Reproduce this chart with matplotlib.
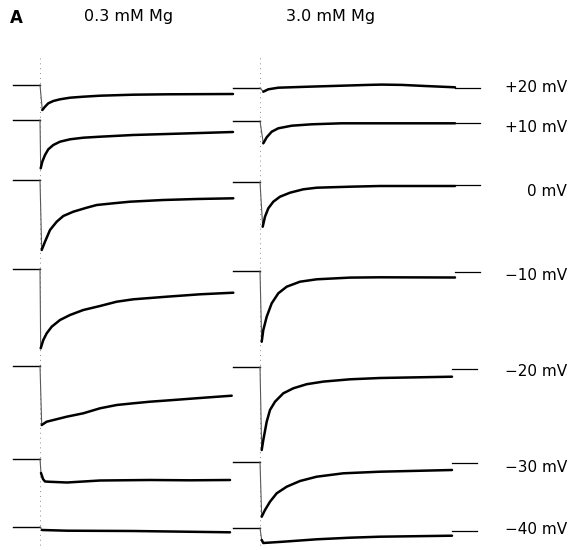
import matplotlib.pyplot as plt
import numpy as np

# step potentials and the two Mg conditions
voltages = ["+20 mV", "+10 mV", "0 mV", "\u221210 mV", "\u221220 mV", "\u221230 mV", "\u221240 mV"]
columns = ["0.3 mM Mg", "3.0 mM Mg"]

# current traces: time after step onset (arb.) vs current (arb., inward = negative)
left_t = [
    [0, 2.3, 5, 8.3, 13.3, 20, 30, 43.3, 60, 93, 127, 193],
    [0, 0.7, 2.3, 5, 8.3, 13.3, 20, 30, 43.3, 60, 93, 127, 160, 193],
    [0, 1.7, 5, 10, 16.7, 23.3, 33.3, 46.7, 56.7, 73.3, 90, 123.3, 156.7, 193.3],
    [0, 0.7, 3.3, 6.7, 11.7, 20, 30, 43.3, 60, 76.7, 93.3, 126.7, 160, 193.3],
    [0, 1.7, 6.7, 26.7, 43.3, 60, 76.7, 93.3, 110, 126.7, 146.7, 166.7, 191.7],
    [0, 1, 3, 5, 10, 27, 60, 110, 150, 190],
    [0, 2, 27, 93, 190],
]
left_i = [
    [0, -25, -21.7, -18.3, -16, -14.3, -12.7, -11.7, -10.7, -9.7, -9.3, -9],
    [0, -48.3, -41.7, -35, -29.3, -25, -21.7, -19.3, -17.7, -16.7, -15, -14, -13, -12],
    [0, -70, -61.7, -50, -41.7, -36, -31.7, -27.7, -25, -23.3, -21.7, -20, -19, -18.3],
    [0, -79.3, -71, -64.3, -57.7, -51, -46, -41, -37, -32.7, -30.3, -27.7, -25.3, -23.7],
    [0, -59, -55.7, -50.7, -47.3, -42.3, -39, -37.3, -35.7, -34.5, -33, -31.5, -29.7],
    [0, -14, -20, -22.5, -22.8, -23.5, -21.5, -21, -21.3, -21],
    [0, -3, -3.7, -4, -5.3],
]
right_t = [
    [0, 3.3, 8.3, 18.3, 48.3, 81.7, 108.3, 121.7, 141.7, 165, 195],
    [0, 3.3, 6.7, 11.7, 18.3, 31.7, 51.7, 81.7, 195],
    [0, 2.7, 5, 8.3, 13.3, 20, 30, 43.3, 56.7, 90, 120, 195],
    [0, 1.7, 3.3, 6.7, 11.7, 18.3, 26.7, 40, 56.7, 90, 120, 195],
    [0, 1.7, 3.3, 6.7, 10, 15, 23.3, 33.3, 46.7, 63.3, 90, 120, 192],
    [0, 1.7, 5, 10, 16.7, 26.7, 40, 56.7, 83.3, 120, 192],
    [0, 1.7, 3.3, 23.3, 56.7, 90, 120, 192],
]
right_i = [
    [0, -3.7, -1.3, 0.3, 1.3, 2.3, 3.1, 3.4, 3.1, 2, 0.7],
    [0, -22.3, -16.3, -10.7, -7.3, -4.7, -3.3, -2.3, -2.3],
    [0, -44.7, -34.7, -26.3, -19.7, -14.7, -10.7, -7.3, -5.7, -4.7, -4, -4],
    [0, -70.7, -59, -45.7, -32.3, -22.3, -15.7, -10.7, -8.3, -6.6, -6.3, -6.5],
    [0, -83, -73, -54.7, -43, -34.7, -26.3, -21.3, -17.2, -14.6, -12.3, -11, -9.7],
    [0, -54.7, -48, -39.7, -31.3, -24.7, -19, -14.7, -11.3, -9.7, -8],
    [0, -12, -15, -13.7, -11.3, -9.7, -8.7, -7.7],
]
# holding-current reference level shown after the 3.0 mM Mg traces
right_ref = [0.5, -2, -2.5, -1, -2, -1, -2.7]

# layout (pixel-like units)
W, H = 575, 550
onset_x = [40, 260]
pre_len = 27
left_base = [85, 120, 180, 269, 366, 459, 527]
right_base = [88, 121, 182, 271, 367, 462, 528]
label_y = [88, 127, 191, 275, 372, 467, 529]

fig = plt.figure(figsize=(5.75, 5.5), dpi=100)
ax = fig.add_axes([0, 0, 1, 1])
ax.set_xlim(0, W)
ax.set_ylim(H, 0)
ax.axis('off')

panels = [(left_t, left_i, left_base), (right_t, right_i, right_base)]
for col, (ts, cs, bases) in enumerate(panels):
    x0 = onset_x[col]
    # dotted marker of the step onset
    ax.plot([x0, x0], [58, 546], color='0.55', lw=0.7, ls=(0, (1, 4)))
    for k, (t, c, b) in enumerate(zip(ts, cs, bases)):
        t = np.asarray(t, dtype=float)
        c = np.asarray(c, dtype=float)
        ax.plot([x0 - pre_len, x0], [b, b], color='k', lw=1.0)
        # fast capacitive jump is faint in the recording
        ax.plot(x0 + t[:2], b - c[:2], color='0.35', lw=0.8)
        ax.plot(x0 + t[1:], b - c[1:], color='k', lw=1.8,
                solid_joinstyle='round', solid_capstyle='round')
        if col == 1:
            ax.plot([x0 + t[-1], x0 + t[-1] + 25], [b - right_ref[k], b - right_ref[k]],
                    color='k', lw=0.9)

for v, y in zip(voltages, label_y):
    ax.text(567, y, v, ha='right', va='center', fontsize=11)

ax.text(129, 17, columns[0], ha='center', va='center', fontsize=11.5)
ax.text(331, 17, columns[1], ha='center', va='center', fontsize=11.5)
ax.text(16, 18, "A", ha='center', va='center', fontsize=12, fontweight='bold')

plt.savefig("out.png", dpi=100)
